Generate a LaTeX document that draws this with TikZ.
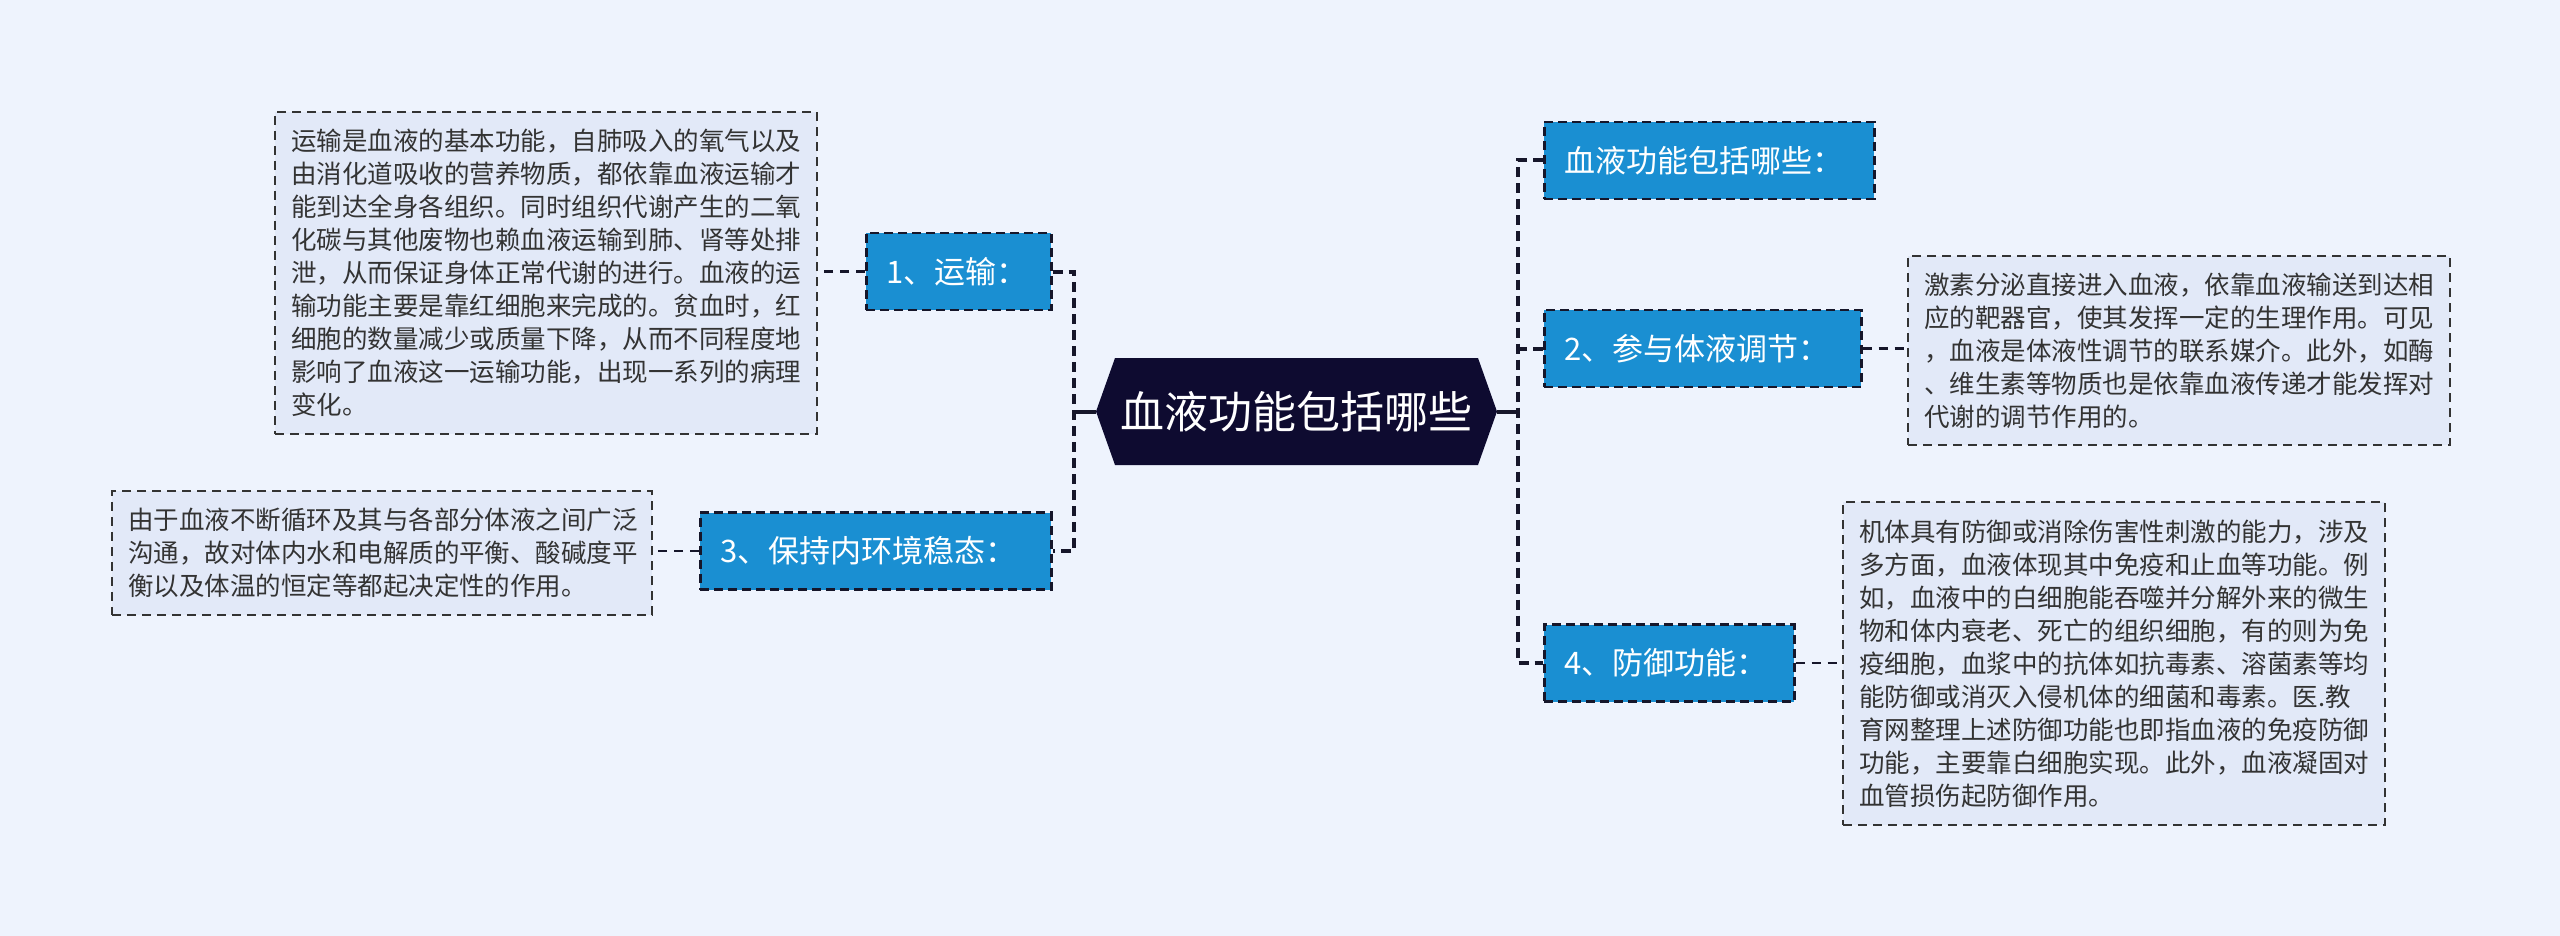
\documentclass[tikz,border=0pt]{standalone}
\usepackage{fontspec}
\setmainfont{Noto Sans CJK SC}
\usetikzlibrary{calc}
\definecolor{bg}{HTML}{EEF3FD}
\definecolor{descfill}{HTML}{E2E9F8}
\definecolor{bluebox}{HTML}{1A8FD2}
\definecolor{navy}{HTML}{0E0B30}
\definecolor{linec}{HTML}{16162A}
\definecolor{txt}{HTML}{333333}
\begin{document}
\begin{tikzpicture}[x=1pt,y=-1pt,
  desc/.style={draw=txt, line width=2pt, dash pattern=on 9pt off 6pt, fill=descfill,
    text=txt, font=\fontsize{25.5}{33}\selectfont, align=left, inner xsep=16pt,
    inner ysep=0pt, anchor=north west},
  topic/.style={draw=linec, line width=2.5pt, dash pattern=on 9pt off 5pt, fill=bluebox,
    text=white, font=\fontsize{31}{36}\selectfont, align=left, inner xsep=20pt,
    inner ysep=0pt, minimum height=77pt, anchor=west},
  trunk/.style={draw=linec, line width=4pt, dash pattern=on 10pt off 6pt},
  twig/.style={draw=linec, line width=2.5pt, dash pattern=on 9pt off 7pt},
  stem/.style={draw=linec, line width=4pt}
]
\fill[bg] (0,0) rectangle (2560,936);
\useasboundingbox (0,0) rectangle (2560,936);

% central hexagon
\coordinate (hl) at (1096,411.5);
\coordinate (hr) at (1497,411.5);
\fill[navy] (hl) -- (1115,358) -- (1478,358) -- (hr) -- (1478,465) -- (1115,465) -- cycle;
\node[text=white, font=\fontsize{44}{50}\selectfont, inner sep=0pt] (root) at (1296.5,411.5) {血液功能包括哪些};

% topic boxes
\node[topic, text width=290pt] (t0) at (1543,160.5) {血液功能包括哪些：};
\node[topic, text width=277pt] (t2) at (1543,348.5) {2、参与体液调节：};
\node[topic, text width=210pt] (t4) at (1543,663) {4、防御功能：};
\node[topic, text width=145pt] (t1) at (865,271.5) {1、运输：};
\node[topic, text width=311pt] (t3) at (699,551) {3、保持内环境稳态：};

% description boxes
\node[desc, text width=510pt, minimum height=322pt] (d1) at (274,111) {%
运输是血液的基本功能，自肺吸入的氧气以及\\
由消化道吸收的营养物质，都依靠血液运输才\\
能到达全身各组织。同时组织代谢产生的二氧\\
化碳与其他废物也赖血液运输到肺、肾等处排\\
泄，从而保证身体正常代谢的进行。血液的运\\
输功能主要是靠红细胞来完成的。贫血时，红\\
细胞的数量减少或质量下降，从而不同程度地\\
影响了血液这一运输功能，出现一系列的病理\\
变化。};
\node[desc, text width=508pt, minimum height=124pt] (d3) at (111,490) {%
由于血液不断循环及其与各部分体液之间广泛\\
沟通，故对体内水和电解质的平衡、酸碱度平\\
衡以及体温的恒定等都起决定性的作用。};
\node[desc, text width=510pt, minimum height=189pt] (d2) at (1907,255) {%
激素分泌直接进入血液，依靠血液输送到达相\\
应的靶器官，使其发挥一定的生理作用。可见\\
，血液是体液性调节的联系媒介。此外，如酶\\
、维生素等物质也是依靠血液传递才能发挥对\\
代谢的调节作用的。};
\node[desc, text width=510pt, minimum height=323pt] (d4) at (1842,501) {%
机体具有防御或消除伤害性刺激的能力，涉及\\
多方面，血液体现其中免疫和止血等功能。例\\
如，血液中的白细胞能吞噬并分解外来的微生\\
物和体内衰老、死亡的组织细胞，有的则为免\\
疫细胞，血浆中的抗体如抗毒素、溶菌素等均\\
能防御或消灭入侵机体的细菌和毒素。医.教\\
育网整理上述防御功能也即指血液的免疫防御\\
功能，主要靠白细胞实现。此外，血液凝固对\\
血管损伤起防御作用。};

% connectors
\coordinate (lv) at (1074,411.5);
\coordinate (rv) at (1518,411.5);
\draw[stem] (hl) -- (lv);
\draw[stem] (hr) -- (rv);
\draw[trunk] (t1.east) -| (lv) |- (t3.east);
\draw[trunk] (t0.west) -| (rv) |- (t4.west);
\draw[trunk] (t2.west) -- (t2.west -| rv);
\draw[twig] (t1.west) -- (t1.west -| d1.east);
\draw[twig] (t3.west) -- (t3.west -| d3.east);
\draw[twig] (t2.east) -- (t2.east -| d2.west);
\draw[twig] (t4.east) -- (t4.east -| d4.west);
\end{tikzpicture}
\end{document}
